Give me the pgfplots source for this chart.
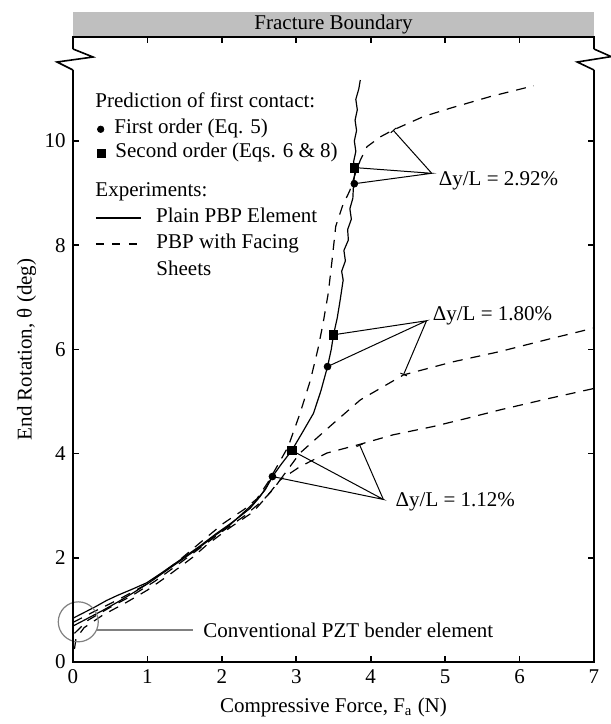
\documentclass[border=0pt]{standalone}
\usepackage{fontspec}
\setmainfont{Liberation Serif}
\usepackage{pgfplots}
\pgfplotsset{compat=1.18}
\usetikzlibrary{arrows.meta}
\tikzset{lg/.style={anchor=west, inner sep=0pt, text height=7.2pt, text depth=2.3pt}}
\begin{document}
\fontsize{10.5}{12.6}\selectfont
\begin{tikzpicture}
\path[use as bounding box] (-36.5pt,-31pt) rectangle (269pt,331pt);
\begin{axis}[
  scale only axis, width=260.5pt, height=312.6pt,
  xmin=0, xmax=7, ymin=0, ymax=12,
  xtick={0,1,...,7}, ytick={0,2,...,10},
  tick align=inside, major tick length=3pt,
  tick style={black, line width=0.8pt},
  axis line style={draw=none},
  /pgf/number format/assume math mode=true,
  xlabel={Compressive Force, F\textsubscript{a} (N)},
  ylabel={End Rotation, θ (deg)},
  ylabel shift=-3pt,
  clip=false,
]
% Plain PBP element (solid)
\addplot[black, line width=0.6pt, forget plot] coordinates {
(0,0.84)(0.15,0.95)(0.3,1.06)(0.45,1.18)(0.6,1.28)(0.8,1.40)(0.99,1.52)
(1.2,1.72)(1.44,1.96)(1.7,2.22)(1.93,2.47)(2.1,2.64)(2.24,2.79)(2.38,2.95)
(2.51,3.17)(2.60,3.36)(2.68,3.56)(2.80,3.80)(2.94,4.06)(3.08,4.40)(3.23,4.77)
(3.33,5.20)(3.42,5.67)(3.47,6.00)(3.50,6.28)(3.55,6.60)(3.59,6.95)(3.63,7.33)
(3.61,7.5)(3.66,7.7)(3.64,7.9)(3.70,8.1)(3.69,8.3)(3.74,8.5)(3.72,8.7)
(3.76,8.9)(3.77,9.19)(3.79,9.44)(3.77,9.6)(3.80,9.8)(3.78,10.0)(3.81,10.2)
(3.79,10.4)(3.82,10.6)(3.80,10.8)(3.84,11.0)(3.86,11.17)};
\addplot[black, line width=0.6pt, forget plot] coordinates {
(0,0.69)(0.2,0.84)(0.4,0.99)(0.6,1.15)(0.8,1.32)(1.0,1.50)(1.2,1.70)
(1.45,1.95)(1.7,2.20)(1.9,2.42)(2.1,2.62)(2.3,2.88)(2.45,3.08)(2.58,3.30)(2.68,3.56)};

% PBP with facing sheets (dashed)
\addplot[black, line width=0.6pt, dash pattern=on 5pt off 4pt, forget plot] coordinates {
(0,0.76)(0.3,0.98)(0.6,1.19)(1.0,1.50)(1.4,1.92)(1.7,2.28)(2.02,2.66)(2.3,2.93)
(2.47,3.13)(2.62,3.45)(2.74,3.75)(2.89,4.13)(3.05,4.77)(3.19,5.41)(3.29,6.00)
(3.36,6.5)(3.43,7.08)(3.48,7.7)(3.53,8.36)(3.62,8.75)(3.72,9.05)(3.80,9.4)
(3.86,9.63)(3.95,9.89)(4.13,10.08)(4.30,10.21)(4.71,10.47)(5.07,10.63)(5.60,10.85)(6.19,11.06)};
\addplot[black, line width=0.6pt, dash pattern=on 5pt off 4pt, forget plot] coordinates {
(0.02,0.25)(0.04,0.45)(0.15,0.66)(0.4,0.90)(0.7,1.13)(1.0,1.38)(1.3,1.68)(1.6,2.00)
(1.8,2.25)(2.1,2.57)(2.42,2.88)(2.60,3.17)(2.78,3.49)(3.05,4.01)(3.45,4.52)
(3.86,5.03)(4.44,5.51)(5.1,5.76)(5.74,5.96)(6.4,6.20)(7.0,6.41)};
\addplot[black, line width=0.6pt, dash pattern=on 5pt off 4pt, forget plot] coordinates {
(0.02,0.55)(0.2,0.80)(0.5,1.05)(0.8,1.28)(1.1,1.55)(1.4,1.86)(1.7,2.18)(2.0,2.50)
(2.3,2.80)(2.55,3.10)(2.70,3.33)(2.78,3.49)(3.05,3.75)(3.41,4.01)(3.86,4.18)
(4.3,4.36)(4.84,4.52)(5.3,4.68)(5.74,4.84)(6.4,5.06)(7.0,5.25)};

% leader lines
\draw[line width=0.5pt] (axis cs:3.78,9.49) -- (axis cs:4.82,9.38) -- (axis cs:3.78,9.18);
\draw[line width=0.5pt, -{Bar[width=3.5pt]}] (axis cs:4.82,9.38) -- (axis cs:4.30,10.21);
\draw[line width=0.5pt] (axis cs:3.50,6.28) -- (axis cs:4.75,6.55) -- (axis cs:3.42,5.67);
\draw[line width=0.5pt, -{Bar[width=3.5pt]}] (axis cs:4.75,6.55) -- (axis cs:4.44,5.51);
\draw[line width=0.5pt] (axis cs:2.94,4.06) -- (axis cs:4.17,3.12) -- (axis cs:2.68,3.56);
\draw[line width=0.5pt, -{Bar[width=3.5pt]}] (axis cs:4.17,3.12) -- (axis cs:3.85,4.17);
\node[anchor=west, inner sep=0pt] at (axis cs:4.91,9.24) {Δy/L = 2.92\%};
\node[anchor=west, inner sep=0pt] at (axis cs:4.83,6.65) {Δy/L = 1.80\%};
\node[anchor=west, inner sep=0pt] at (axis cs:4.33,3.08) {Δy/L = 1.12\%};

% predictions of first contact
\addplot[black, only marks, mark=square*, mark size=2.2pt, forget plot] coordinates {(3.78,9.49)(3.50,6.28)(2.94,4.06)};
\addplot[black, only marks, mark=*, mark size=1.7pt, forget plot] coordinates {(3.78,9.18)(3.42,5.67)(2.68,3.56)};

% legend
\node[lg] at (axis cs:0.296,10.729) {Prediction of first contact:};
\addplot[black, only marks, mark=*, mark size=1.6pt, forget plot] coordinates {(0.372,10.225)};
\node[lg] at (axis cs:0.551,10.230) {First order (Eq. 5)};
\addplot[black, only marks, mark=square*, mark size=2pt, forget plot] coordinates {(0.386,9.764)};
\node[lg] at (axis cs:0.565,9.770) {Second order (Eqs. 6 \& 8)};
\node[lg] at (axis cs:0.296,9.021) {Experiments:};
\addplot[black, line width=0.6pt, forget plot] coordinates {(0.309,8.522)(0.914,8.522)};
\node[lg] at (axis cs:1.112,8.522) {Plain PBP Element};
\addplot[black, line width=0.6pt, dash pattern=on 4pt off 4.25pt, forget plot] coordinates {(0.309,8.023)(0.860,8.023)};
\node[lg] at (axis cs:1.116,8.023) {PBP with Facing};
\node[lg] at (axis cs:1.116,7.505) {Sheets};

% conventional PZT annotation
\draw[black!50, line width=0.6pt] (axis cs:0.071,0.771) circle[radius=10pt];
\draw[black!50, line width=0.6pt] (axis cs:0.317,0.614) -- (axis cs:1.613,0.614);
\node[anchor=west, inner sep=0pt] at (axis cs:1.747,0.614) {Conventional PZT bender element};

% fracture boundary band
\fill[black!25] (axis cs:0,12) rectangle (axis cs:7,12.476);
\node at (axis cs:3.5,12.238) {Fracture Boundary};

% axis box with breaks
\draw[line width=1.1pt] (axis cs:0,11.363) -- (axis cs:0,0) -- (axis cs:7,0) -- (axis cs:7,11.363);
\draw[line width=1.1pt] (axis cs:0,11.766) -- (axis cs:0,12) -- (axis cs:7,12) -- (axis cs:7,11.766);
\draw[line width=0.8pt] (axis cs:0,11.766) -- (axis cs:0.269,11.612) -- (axis cs:-0.215,11.516) -- (axis cs:0,11.363);
\draw[line width=0.8pt] (axis cs:7,11.766) -- (axis cs:7.231,11.62) -- (axis cs:6.774,11.516) -- (axis cs:7,11.363);
\end{axis}
\end{tikzpicture}
\end{document}
